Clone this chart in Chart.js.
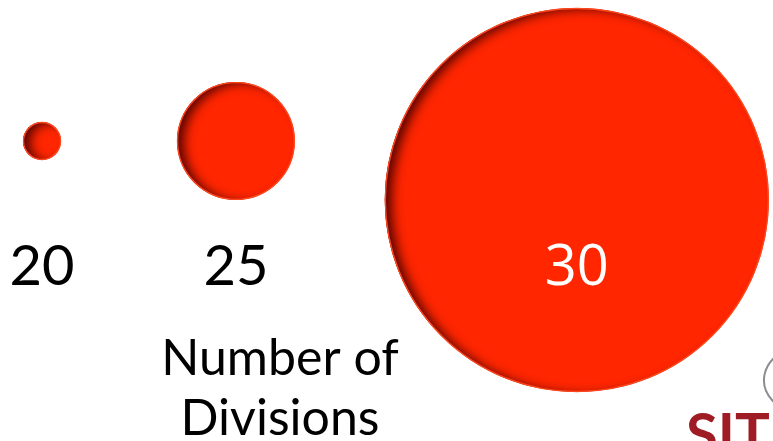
<!DOCTYPE html>
<html>
<head>
<meta charset="utf-8">
<script src="https://cdn.jsdelivr.net/npm/chart.js@4.4.1/dist/chart.umd.min.js"></script>
<style>
  html, body { margin: 0; padding: 0; background: #ffffff; overflow: hidden; }
  #wrap { width: 773px; height: 441px; position: relative; }
</style>
</head>
<body>
<div id="wrap"><canvas id="chart"></canvas></div>
<script>
// Number of divisions (category labels under each bubble)
const divisions = [20, 25, 30];
// Relative size of each bubble (encoded as bubble area)
const relativeSize = [1, 9.6, 102];
// Axis caption
const captionLines = ['Number of', 'Divisions'];
// Logo text in the corner
const logoText = 'SIT';

// ---- layout ----
const W = 773, H = 441;
const MAX_RADIUS = 192;      // radius of the largest bubble
const LEFT_MARGIN = 23;      // space before the first bubble
const GAPS = [116, 90];      // space between neighbouring bubbles
const ROW_Y = 141;           // centre line of the bubble row
const TOP_MARGIN = 8;        // bubbles are pushed down to stay inside
const LABEL_BASELINE = 285;
const CAPTION_X = 280;
const CAPTION_BASELINES = [375, 435];

const RED = 'rgb(255,38,0)';
const RED_EDGE = 'rgb(255,72,30)';

const vMax = Math.max(...relativeSize);
const radii = relativeSize.map(v => MAX_RADIUS * Math.sqrt(v / vMax));

// Pack the bubbles left to right, each one a gap after the previous
const points = [];
let cursor = LEFT_MARGIN;
radii.forEach((r, i) => {
  const cx = cursor + r;
  const cy = Math.max(ROW_Y, TOP_MARGIN + r);
  points.push({ x: cx, y: cy, r: r, label: String(divisions[i]) });
  cursor = cx + r + (GAPS[i] || 0);
});

// Inner shadow, rim, value labels, caption and logo
const decorations = {
  id: 'decorations',
  afterDatasetsDraw(chart) {
    const ctx = chart.ctx;
    const meta = chart.getDatasetMeta(0);
    meta.data.forEach((el) => {
      const x = el.x, y = el.y, r = el.options.radius;
      // inner shadow along the left edge
      ctx.save();
      ctx.beginPath();
      ctx.arc(x, y, r, 0, Math.PI * 2);
      ctx.clip();
      ctx.beginPath();
      ctx.rect(x - r - 80, y - r - 80, 2 * r + 160, 2 * r + 160);
      ctx.arc(x, y, r + 1, 0, Math.PI * 2, true);
      ctx.shadowColor = 'rgba(70,0,0,0.9)';
      ctx.shadowBlur = 11;
      ctx.shadowOffsetX = 8;
      ctx.shadowOffsetY = 2;
      ctx.fillStyle = '#000';
      ctx.fill();
      ctx.restore();
      // thin bright rim
      ctx.save();
      ctx.beginPath();
      ctx.arc(x, y, r - 0.5, 0, Math.PI * 2);
      ctx.strokeStyle = RED_EDGE;
      ctx.lineWidth = 1.4;
      ctx.stroke();
      ctx.restore();
    });

    // category labels: white when they sit inside their bubble
    ctx.save();
    ctx.textAlign = 'center';
    ctx.textBaseline = 'alphabetic';
    meta.data.forEach((el, i) => {
      const r = el.options.radius;
      const inside = Math.abs(LABEL_BASELINE - 20 - el.y) < r;
      ctx.fillStyle = inside ? '#ffffff' : '#000000';
      ctx.font = inside ? '400 56px "Open Sans"' : '400 56px Lato';
      ctx.fillText(points[i].label, el.x, LABEL_BASELINE);
    });
    // caption
    ctx.fillStyle = '#000000';
    ctx.font = '400 50px Lato';
    captionLines.forEach((line, i) => ctx.fillText(line, CAPTION_X, CAPTION_BASELINES[i]));
    ctx.restore();

    // logo in the lower right corner
    ctx.save();
    ctx.beginPath();
    ctx.ellipse(806, 380, 42, 34, 0, Math.PI * 0.55, Math.PI * 1.45);
    ctx.strokeStyle = 'rgb(140,140,145)';
    ctx.lineWidth = 2;
    ctx.stroke();
    ctx.fillStyle = 'rgb(160,28,36)';
    ctx.font = '700 58px Lato';
    ctx.textAlign = 'left';
    ctx.textBaseline = 'alphabetic';
    ctx.fillText(logoText, 686, 455);
    ctx.restore();
  }
};

new Chart(document.getElementById('chart'), {
  type: 'bubble',
  data: {
    datasets: [{
      data: points,
      backgroundColor: RED,
      borderColor: RED_EDGE,
      borderWidth: 0,
      hoverRadius: 0,
      clip: false
    }]
  },
  options: {
    responsive: true,
    maintainAspectRatio: false,
    animation: false,
    events: [],
    layout: { padding: 0, autoPadding: false },
    plugins: { legend: { display: false }, tooltip: { enabled: false } },
    scales: {
      x: { type: 'linear', display: false, min: 0, max: W },
      y: { type: 'linear', display: false, min: 0, max: H, reverse: true }
    }
  },
  plugins: [decorations]
});
</script>
</body>
</html>
